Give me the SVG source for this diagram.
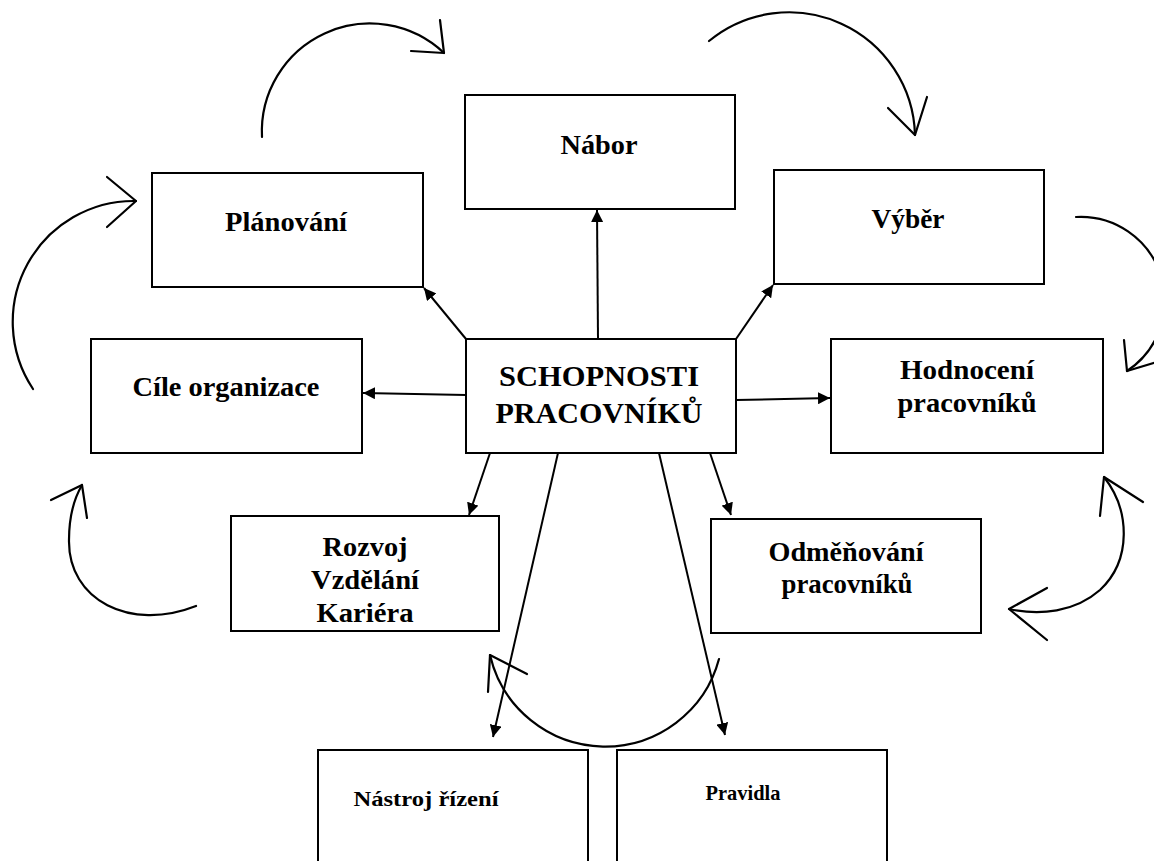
<svg xmlns="http://www.w3.org/2000/svg" width="1154" height="861" viewBox="0 0 1154 861">
<style>
.box{fill:#fff;stroke:#000;stroke-width:2}
.t{font-family:"Liberation Serif","Times New Roman",serif;font-weight:bold;fill:#000;text-anchor:middle}
.m{font-size:27px}
.c{font-size:30px}
.s{font-size:21px}
.ln{fill:none;stroke:#000;stroke-width:2}
.cv{fill:none;stroke:#000;stroke-width:2.2;stroke-linecap:round;stroke-linejoin:round}
</style>
<defs>
<marker id="ah" markerUnits="userSpaceOnUse" markerWidth="14" markerHeight="12" refX="12" refY="6" orient="auto">
<path d="M0,0 L12,6 L0,12 Z" fill="#000"/>
</marker>
</defs>
<rect width="1154" height="861" fill="#fff"/>

<g id="connectors">
<path class="ln" marker-end="url(#ah)" d="M466,339 L424,288"/>
<path class="ln" marker-end="url(#ah)" d="M598,339 L597,210"/>
<path class="ln" marker-end="url(#ah)" d="M736,339 L773,285"/>
<path class="ln" marker-end="url(#ah)" d="M466,395 L363,393"/>
<path class="ln" marker-end="url(#ah)" d="M736,400 L830,398"/>
<path class="ln" marker-end="url(#ah)" d="M490,453 L469,515"/>
<path class="ln" marker-end="url(#ah)" d="M710,453 L731,515"/>
<path class="ln" marker-end="url(#ah)" d="M558,453 L493,737"/>
<path class="ln" marker-end="url(#ah)" d="M659,453 L725,735"/>

<path class="cv" d="M262,137 A108,108 0 0 1 444,53"/>
<path class="cv" d="M440,20 L444,53 L411,51"/>
<path class="cv" d="M709,41 A126,126 0 0 1 915,135"/>
<path class="cv" d="M888,108 L915,135 L927,97"/>
<path class="cv" d="M33,389 A121,121 0 0 1 136,201"/>
<path class="cv" d="M107,177 L136,201 L107,227"/>
<path class="cv" d="M1076,217 A84,84 0 0 1 1127,371"/>
<path class="cv" d="M1124,340 L1127,371 L1160,361"/>
<path class="cv" d="M196,606 C130,632 68,600 69,540 C69,515 75,497 82,485"/>
<path class="cv" d="M51,500 L82,485 L87,518"/>
<path class="cv" d="M1104,477 C1130,510 1132,560 1100,590 C1075,612 1040,616 1009,609"/>
<path class="cv" d="M1100,516 L1104,477 L1143,502"/>
<path class="cv" d="M1047,588 L1009,609 L1047,640"/>
<path class="cv" d="M719,659 A118,118 0 0 1 490,655"/>
<path class="cv" d="M488,692 L490,655 L527,674"/>
</g>

<g id="nabor">
<rect class="box" x="465" y="95" width="270" height="114"/>
<text class="t m" x="599" y="154" textLength="77" lengthAdjust="spacingAndGlyphs">Nábor</text>
</g>
<g id="planovani">
<rect class="box" x="152" y="173" width="271" height="114"/>
<text class="t m" x="286" y="231" textLength="122" lengthAdjust="spacingAndGlyphs">Plánování</text>
</g>
<g id="vyber">
<rect class="box" x="774" y="170" width="270" height="114"/>
<text class="t m" x="908" y="228" textLength="73" lengthAdjust="spacingAndGlyphs">Výběr</text>
</g>
<g id="cile">
<rect class="box" x="91" y="339" width="271" height="114"/>
<text class="t m" x="226" y="396" textLength="187" lengthAdjust="spacingAndGlyphs">Cíle organizace</text>
</g>
<g id="schopnosti">
<rect class="box" x="466" y="339" width="270" height="114"/>
<text class="t c" x="599" y="386" textLength="200" lengthAdjust="spacingAndGlyphs">SCHOPNOSTI</text>
<text class="t c" x="599" y="423" textLength="207" lengthAdjust="spacingAndGlyphs">PRACOVNÍKŮ</text>
</g>
<g id="hodnoceni">
<rect class="box" x="831" y="339" width="272" height="114"/>
<text class="t m" x="967" y="379" textLength="134" lengthAdjust="spacingAndGlyphs">Hodnocení</text>
<text class="t m" x="967" y="412" textLength="139" lengthAdjust="spacingAndGlyphs">pracovníků</text>
</g>
<g id="rozvoj">
<rect class="box" x="231" y="516" width="268" height="115"/>
<text class="t m" x="365" y="556" textLength="85" lengthAdjust="spacingAndGlyphs">Rozvoj</text>
<text class="t m" x="365" y="589" textLength="108" lengthAdjust="spacingAndGlyphs">Vzdělání</text>
<text class="t m" x="365" y="622" textLength="97" lengthAdjust="spacingAndGlyphs">Kariéra</text>
</g>
<g id="odmenovani">
<rect class="box" x="711" y="519" width="270" height="114"/>
<text class="t m" x="846" y="561" textLength="155" lengthAdjust="spacingAndGlyphs">Odměňování</text>
<text class="t m" x="847" y="593" textLength="131" lengthAdjust="spacingAndGlyphs">pracovníků</text>
</g>
<g id="nastroj">
<rect class="box" x="318" y="750" width="270" height="130"/>
<text class="t s" x="426" y="806" textLength="145" lengthAdjust="spacingAndGlyphs">Nástroj řízení</text>
</g>
<g id="pravidla">
<rect class="box" x="617" y="750" width="270" height="130"/>
<text class="t s" x="743" y="800" textLength="75" lengthAdjust="spacingAndGlyphs">Pravidla</text>
</g>
</svg>
